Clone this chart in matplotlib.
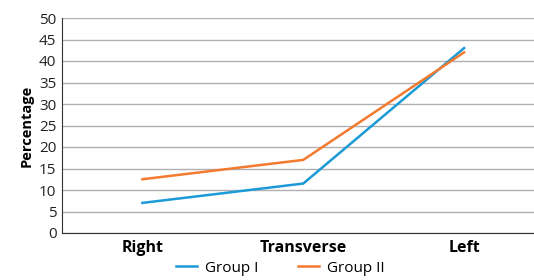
import numpy as np
import matplotlib.pyplot as plt

plt.rcParams['font.family'] = ['Open Sans', 'DejaVu Sans']

categories = ["Right", "Transverse", "Left"]
group1 = [7, 11.5, 43]
group2 = [12.5, 17, 42]

fig = plt.figure(figsize=(5.34, 2.8), dpi=100)
ax = fig.add_axes([62 / 534, 47 / 280, 482.5 / 534, 215 / 280])

xs = np.arange(len(categories))
ax.plot(xs, group1, color="#1a9ad6", lw=1.8, label="Group I")
ax.plot(xs, group2, color="#f37a2f", lw=1.8, label="Group II")

ax.set_xlim(-0.5, len(categories) - 0.5)
ax.set_ylim(0, 50)
ax.set_yticks(np.arange(0, 51, 5))
ax.set_xticks(xs)
ax.set_xticklabels(categories, fontweight="bold", fontsize=11.5)
ax.tick_params(axis="y", labelsize=11, length=0, pad=4, colors="#222222")
ax.tick_params(axis="x", length=0, pad=5)
ax.yaxis.grid(True, color="#b0b0b0", lw=1)
ax.set_axisbelow(True)
for s in ["top", "right"]:
    ax.spines[s].set_visible(False)
ax.spines["left"].set_color("#333333")
ax.spines["bottom"].set_color("#333333")
ax.set_ylabel("Percentage", fontweight="bold", fontsize=10.5, labelpad=4)

fig.legend(loc="center", bbox_to_anchor=(280 / 534, 1 - 268 / 280), ncol=2,
           frameon=False, fontsize=11, handlelength=1.4, columnspacing=2.6,
           handletextpad=0.5)

fig.savefig("out.png", dpi=100)
